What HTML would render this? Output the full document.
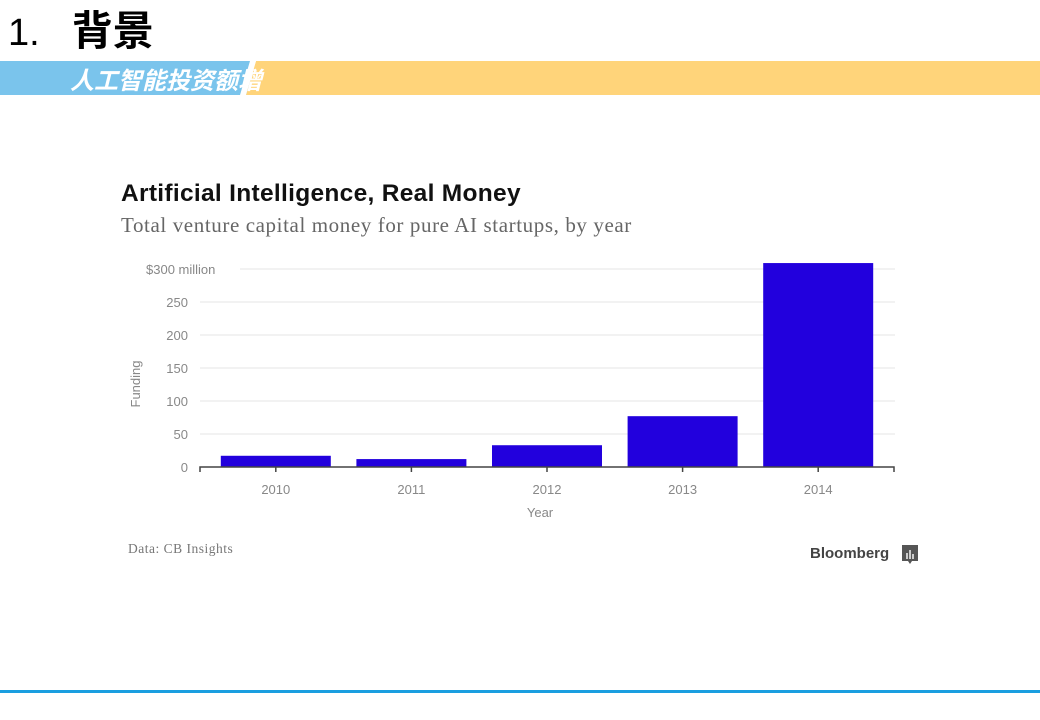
<!DOCTYPE html>
<html><head><meta charset="utf-8"><style>
html,body{margin:0;padding:0;background:#fff;}
body{width:1040px;height:720px;position:relative;overflow:hidden;font-family:"Liberation Sans","Noto Sans CJK SC",sans-serif;}
</style></head><body>
<div style="position:absolute;left:8px;top:6px;font-size:41px;font-weight:bold;color:#000;line-height:50px;font-family:'Liberation Sans','Noto Sans CJK SC',sans-serif;"><span style="font-weight:normal;font-size:38px">1.</span><span style="margin-left:32px">背景</span></div>
<svg width="1040" height="40" style="position:absolute;left:0;top:61px">
<rect x="0" y="0" width="252" height="34" fill="#7ac4ec"/>
<polygon points="246,34 256,0 1040,0 1040,34" fill="#ffd47a"/>
<polygon points="240,34 250,0 256,0 246,34" fill="#fff"/>
<text x="70" y="28" font-size="24" font-style="italic" font-weight="bold" fill="#fff" font-family="Liberation Sans, Noto Sans CJK SC, sans-serif">人工智能投资额增</text>
</svg>
<div style="position:absolute;left:121px;top:180px;font-size:24.5px;font-weight:bold;color:#111;letter-spacing:0.3px">Artificial Intelligence, Real Money</div>
<div style="position:absolute;left:121px;top:213px;font-size:21px;letter-spacing:0.6px;color:#666;font-family:'Liberation Serif',serif;">Total venture capital money for pure AI startups, by year</div>
<svg id="chart" width="1040" height="720" style="position:absolute;left:0;top:0"></svg>
<div style="position:absolute;left:128px;top:541px;font-size:13.5px;letter-spacing:0.5px;color:#777;font-family:'Liberation Serif',serif;">Data: CB Insights</div>
<div style="position:absolute;left:810px;top:545px;font-size:15px;font-weight:bold;color:#444;">Bloomberg</div>
<svg width="18" height="22" style="position:absolute;left:901px;top:544px"><path d="M1 1H17V17H11L9 20L7 17H1Z" fill="#555"/><rect x="5" y="9" width="2" height="6" fill="#ccc"/><rect x="8" y="6" width="2" height="9" fill="#ccc"/><rect x="11" y="10" width="2" height="5" fill="#ccc"/></svg>
<div style="position:absolute;left:0;top:690px;width:1040px;height:3px;background:#1a9ee0"></div>
<script>
const categories=["2010","2011","2012","2013","2014"];
const funding=[17,12,33,77,309];
const yTicks=[0,50,100,150,200,250,300];
const yTickLabels=["0","50","100","150","200","250","$300 million"];
const NS="http://www.w3.org/2000/svg";
const svg=document.getElementById('chart');
const x0=208,step=135.6,barW=110,yBase=467,pxPer=0.66;
function y(v){return yBase-v*pxPer;}
function xc(i){return x0+step*(i+0.5);}
function mk(t,a){const e=document.createElementNS(NS,t);for(const k in a)e.setAttribute(k,a[k]);svg.appendChild(e);return e;}
yTicks.forEach((t,i)=>{
 if(t>0){const g=mk('line',{x1:i==6?240:200,x2:895,y1:y(t),y2:y(t),stroke:'#eee','stroke-width':1.5});
 
 }
 const l=mk('text',{x:i==6?146:188,y:y(t)+5,'font-size':13,fill:'#888','text-anchor':i==6?'start':'end','font-family':'Liberation Sans, sans-serif'});
 l.textContent=yTickLabels[i];
 
 
});
funding.forEach((v,i)=>{
 const r=mk('rect',{x:xc(i)-barW/2,y:y(v),width:barW,height:yBase-y(v),fill:'#2200dd'});
 
 
 const tk=mk('line',{x1:xc(i),x2:xc(i),y1:yBase,y2:yBase+5,stroke:'#444','stroke-width':1.5});
 
 
 const t=mk('text',{x:xc(i),y:yBase+27,'font-size':13,fill:'#888','text-anchor':'middle','font-family':'Liberation Sans, sans-serif'});
 t.textContent=categories[i];
 
 
});
const ax=mk('path',{d:`M200 ${yBase+5}V${yBase}H894V${yBase+5}`,stroke:'#444','stroke-width':1.5,fill:'none'});


const xt=mk('text',{x:540,y:517,'font-size':13,fill:'#888','text-anchor':'middle','font-family':'Liberation Sans, sans-serif'});
xt.textContent='Year';


const yt=mk('text',{x:0,y:0,'font-size':13,fill:'#888','text-anchor':'middle','font-family':'Liberation Sans, sans-serif',transform:'translate(140,384) rotate(-90)'});
yt.textContent='Funding';


</script>
</body></html>
